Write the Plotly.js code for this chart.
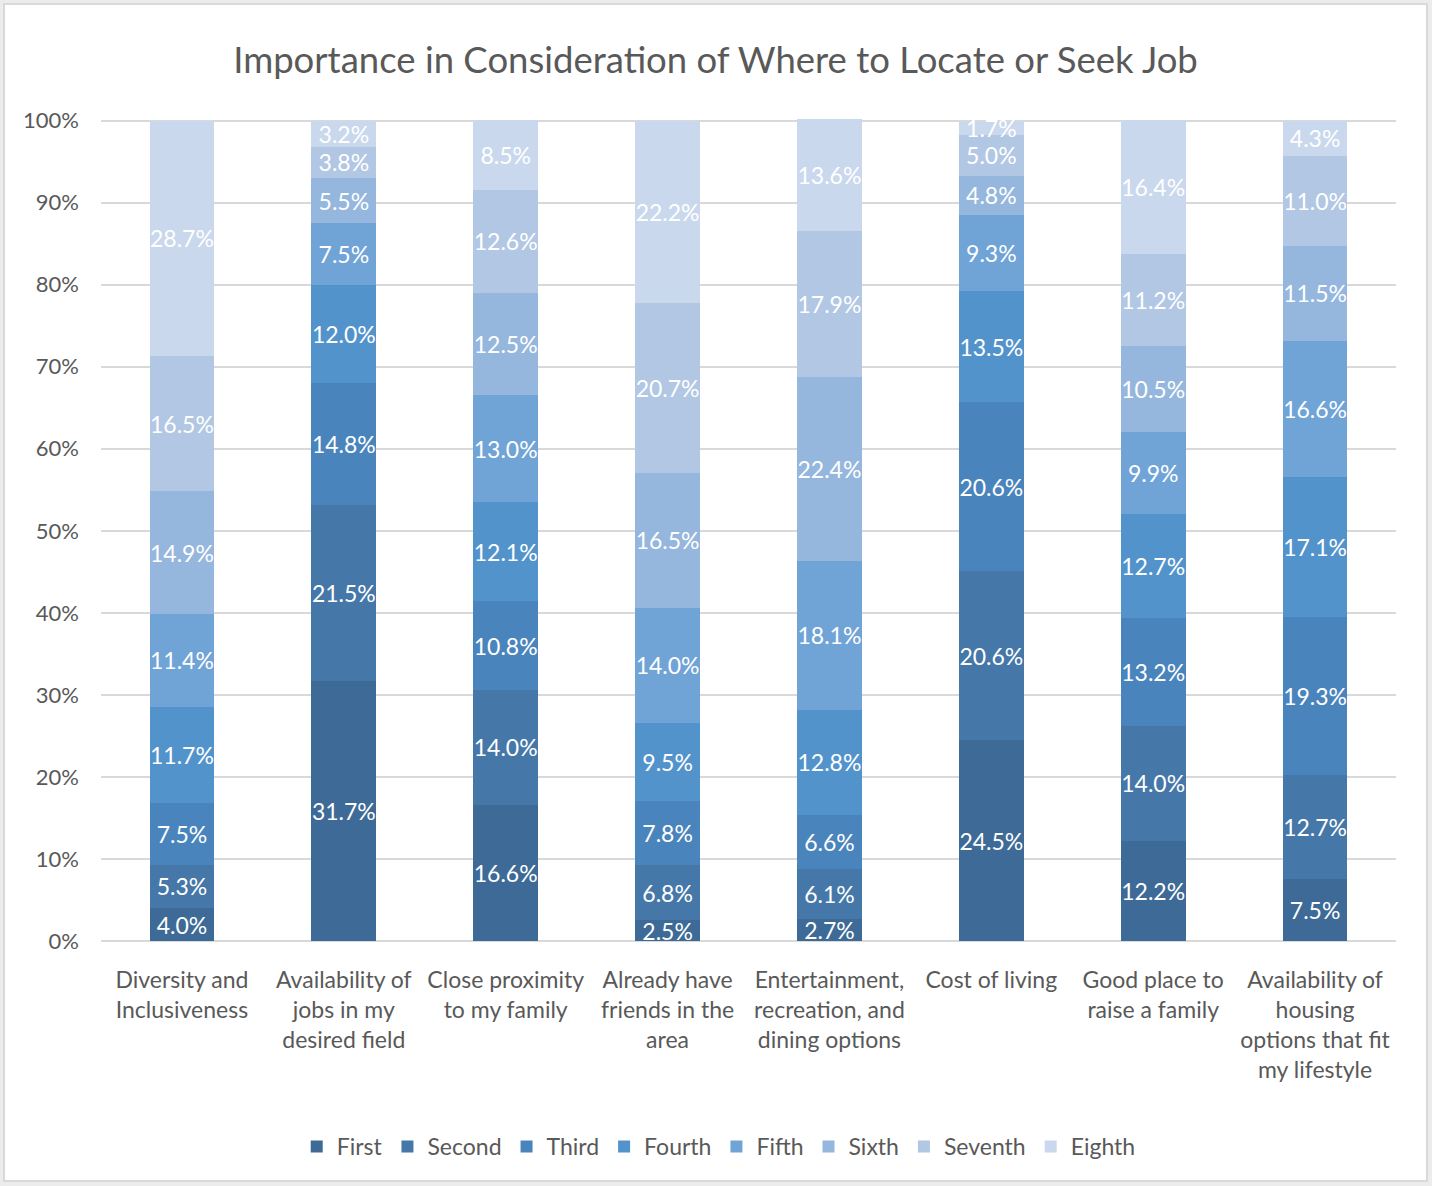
<!DOCTYPE html>
<html>
<head>
<meta charset="utf-8">
<script src="https://cdn.plot.ly/plotly-3.0.1.min.js"></script>
<style>
  html, body { margin: 0; padding: 0; background: #ececec; }
  #frame { position: absolute; left: 3px; top: 3px; width: 1425px; height: 1179px; box-sizing: border-box; border: 2px solid #d9d9d9; background: #fff; }
  #chart { width: 1421px; height: 1175px; }
</style>
</head>
<body>
<div id="frame"><div id="chart"></div></div>
<script>
const categories = [
  "Diversity and<br>Inclusiveness",
  "Availability of<br>jobs in my<br>desired field",
  "Close proximity<br>to my family",
  "Already have<br>friends in the<br>area",
  "Entertainment,<br>recreation, and<br>dining options",
  "Cost of living",
  "Good place to<br>raise a family",
  "Availability of<br>housing<br>options that fit<br>my lifestyle"
];
const seriesNames = ["First", "Second", "Third", "Fourth", "Fifth", "Sixth", "Seventh", "Eighth"];
const first   = [4.0, 31.7, 16.6, 2.5, 2.7, 24.5, 12.2, 7.5];
const second  = [5.3, 21.5, 14.0, 6.8, 6.1, 20.6, 14.0, 12.7];
const third   = [7.5, 14.8, 10.8, 7.8, 6.6, 20.6, 13.2, 19.3];
const fourth  = [11.7, 12.0, 12.1, 9.5, 12.8, 13.5, 12.7, 17.1];
const fifth   = [11.4, 7.5, 13.0, 14.0, 18.1, 9.3, 9.9, 16.6];
const sixth   = [14.9, 5.5, 12.5, 16.5, 22.4, 4.8, 10.5, 11.5];
const seventh = [16.5, 3.8, 12.6, 20.7, 17.9, 5.0, 11.2, 11.0];
const eighth  = [28.7, 3.2, 8.5, 22.2, 13.6, 1.7, 16.4, 4.3];
const allSeries = [first, second, third, fourth, fifth, sixth, seventh, eighth];
const yTickVals = [0, 10, 20, 30, 40, 50, 60, 70, 80, 90, 100];
const yTickText = ["0%", "10%", "20%", "30%", "40%", "50%", "60%", "70%", "80%", "90%", "100%"];
const colors = ["#3d6a96", "#4577a8", "#4a84bc", "#5393cc", "#70a3d6", "#95b6dd", "#b1c7e3", "#c9d8ed"];

const font = "Lato, 'Open Sans', sans-serif";

const traces = allSeries.map((vals, i) => ({
  type: "bar",
  name: seriesNames[i],
  x: categories,
  y: vals,
  marker: { color: colors[i], line: { width: 0 } },
  text: vals.map(v => v.toFixed(1) + "%"),
  textposition: "inside",
  insidetextanchor: "middle",
  constraintext: "none",
  textangle: 0,
  textfont: { family: font, size: 23, color: "#ffffff" },
  cliponaxis: false,
  hoverinfo: "skip"
}));

const layout = {
  barmode: "stack",
  bargap: 0.6,
  width: 1421,
  height: 1175,
  margin: { l: 96, r: 30, t: 114, b: 237 },
  paper_bgcolor: "#ffffff",
  plot_bgcolor: "#ffffff",
  font: { family: font, color: "#595959" },
  title: {
    text: "Importance in Consideration of Where to Locate or Seek Job",
    font: { family: font, size: 36.5, color: "#595959" },
    x: 0.5, xanchor: "center", xref: "container",
    y: 0.953, yanchor: "middle"
  },
  xaxis: {
    type: "category",
    tickfont: { family: font, size: 23, color: "#595959" },
    showgrid: false,
    showline: false,
    ticks: "",
    ticklabelstandoff: 23,
    automargin: false
  },
  yaxis: {
    range: [0, 100.2],
    tickmode: "array",
    tickvals: yTickVals,
    ticktext: yTickText,
    tickfont: { family: font, size: 22, color: "#595959" },
    showgrid: true,
    gridcolor: "#d9d9d9",
    gridwidth: 2,
    zeroline: true,
    zerolinecolor: "#d9d9d9",
    zerolinewidth: 2,
    showline: false,
    ticks: "",
    ticklabelstandoff: 21,
    automargin: false
  },
  legend: {
    orientation: "h",
    x: 0.477, xanchor: "center",
    y: -0.25, yanchor: "middle",
    font: { family: font, size: 23, color: "#595959" },
    traceorder: "normal",
    itemwidth: 30
  },
  showlegend: true
};

Plotly.newPlot("chart", traces, layout, { displayModeBar: false, staticPlot: true });
</script>
</body>
</html>
